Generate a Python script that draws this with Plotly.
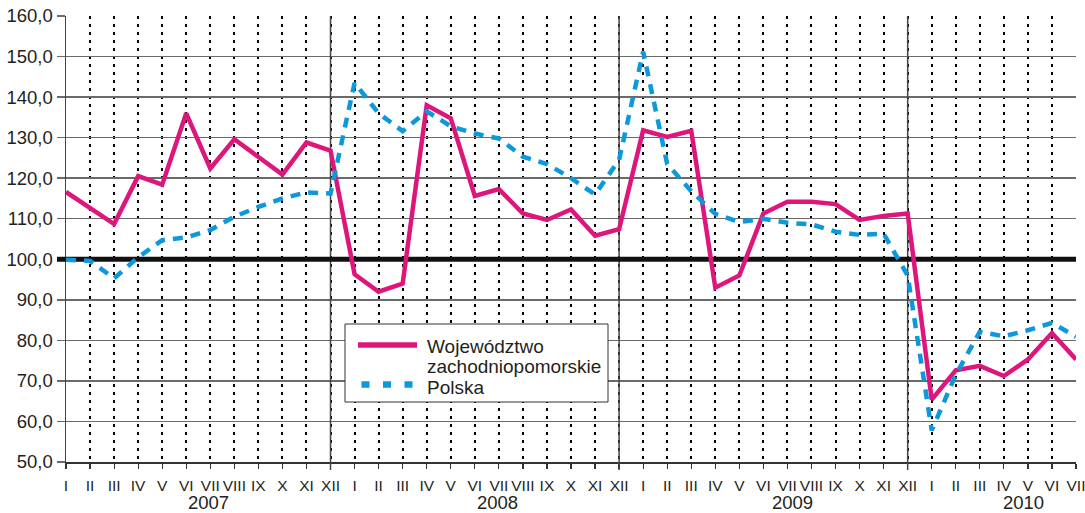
import plotly.graph_objects as go

months = ["I", "II", "III", "IV", "V", "VI", "VII", "VIII", "IX", "X", "XI", "XII"] * 3 + \
         ["I", "II", "III", "IV", "V", "VI", "VII"]
years = ["2007", "2008", "2009", "2010"]
year_pos = [5.93, 17.95, 30.2, 39.8]
year_end_idx = [11, 23, 35]

woj = [116.6, 112.7, 108.7, 120.5, 118.4, 136.0, 122.4, 129.6, 125.2, 120.9, 128.8, 126.8,
       96.3, 92.0, 94.0, 138.0, 134.8, 115.6, 117.3, 111.3, 109.7, 112.3, 105.8, 107.4,
       131.8, 130.2, 131.7, 93.0, 96.0, 111.3, 114.2, 114.2, 113.6, 109.7, 110.7, 111.3,
       65.4, 72.6, 73.7, 71.2, 75.3, 81.8, 75.3]
polska = [99.9, 99.6, 95.3, 100.5, 104.7, 105.4, 107.2, 110.5, 112.9, 115.0, 116.5, 116.2,
          143.5, 136.0, 131.6, 136.5, 132.8, 131.0, 129.8, 125.3, 123.5, 120.0, 116.0, 124.5,
          151.2, 123.5, 116.8, 111.2, 109.2, 110.0, 109.0, 108.6, 106.8, 106.0, 106.3, 96.0,
          57.8, 71.5, 82.1, 81.0, 82.5, 84.3, 80.9]
ref_value = 100
y_range = [50, 160]
series_names = ["Województwo", "zachodniopomorskie", "Polska"]

PINK = "#de167c"
BLUE = "#0b98dd"
x = list(range(len(months)))
FONT = "Liberation Sans, Arial, sans-serif"
TXT = "#231f20"

W, H = 1085, 513
ML, MR, MT, MB = 66, 9, 16, 51
PW, PH = W - ML - MR, H - MT - MB


def px(v):
    return (v - ML) / PW


def py(v):
    return (H - MB - v) / PH


fig = go.Figure()
# solid year separators (December) drawn under the data
sep_x, sep_y = [], []
for i in year_end_idx:
    sep_x += [i, i, None]
    sep_y += [y_range[0], y_range[1], None]
fig.add_trace(go.Scatter(x=sep_x, y=sep_y, mode="lines", line=dict(color="#444444", width=1.5),
                         hoverinfo="skip", showlegend=False))
# thick reference line at 100
fig.add_trace(go.Scatter(x=[x[0], x[-1]], y=[ref_value, ref_value], mode="lines",
                         line=dict(color="#111111", width=5), hoverinfo="skip", showlegend=False))

fig.add_trace(go.Scatter(x=x, y=woj, mode="lines", name=series_names[0] + " " + series_names[1],
                         line=dict(color=PINK, width=4.5), showlegend=False))
fig.add_trace(go.Scatter(x=x, y=polska, mode="lines", name=series_names[2],
                         line=dict(color=BLUE, width=4.5, dash="10px,8px"), showlegend=False))

# extension of the reference line into the tick area, left of the axis
fig.add_shape(type="line", xref="paper", yref="y", x0=px(57), x1=0, y0=ref_value, y1=ref_value,
              line=dict(color="#111111", width=5), layer="above")
# longer ticks under the year separators
for i in year_end_idx:
    fig.add_shape(type="line", xref="x", yref="paper", x0=i, x1=i, y0=py(470), y1=0,
                  line=dict(color="#444444", width=1.5), layer="above")

# year labels
for yr, p in zip(years, year_pos):
    fig.add_annotation(x=p, y=py(503), xref="x", yref="paper", text=yr, showarrow=False,
                       font=dict(family=FONT, size=18.5, color=TXT), yanchor="middle")

# legend box
fig.add_shape(type="rect", xref="paper", yref="paper", x0=px(345), x1=px(608), y0=py(402), y1=py(324),
              line=dict(color="#333333", width=1), fillcolor="white", layer="above")
fig.add_shape(type="line", xref="paper", yref="paper", x0=px(358), x1=px(417), y0=py(345), y1=py(345),
              line=dict(color=PINK, width=5.5), layer="above")
fig.add_shape(type="line", xref="paper", yref="paper", x0=px(361.5), x1=px(413), y0=py(384.5), y1=py(384.5),
              line=dict(color=BLUE, width=6.5, dash="8px,13.5px"), layer="above")
for t, yc in zip(series_names, [346.5, 366.3, 387.5]):
    fig.add_annotation(x=px(425), y=py(yc), xref="paper", yref="paper", text=t, showarrow=False,
                       xanchor="left", yanchor="middle",
                       font=dict(family=FONT, size=19, color=TXT))

fig.update_layout(
    width=W, height=H,
    margin=dict(l=ML, r=MR, t=MT, b=MB, autoexpand=False),
    paper_bgcolor="white", plot_bgcolor="white",
    separators=",.",
    font=dict(family=FONT, color=TXT),
    showlegend=False,
    hovermode=False,
)
fig.update_xaxes(range=[0, 42], tickmode="array", tickvals=x, ticktext=months,
                 showgrid=True, gridcolor="#000000", gridwidth=2, griddash="3px,5px",
                 ticks="outside", ticklen=5, tickcolor="#333333", tickwidth=1.2,
                 showline=True, linecolor="#333333", linewidth=1.5,
                 tickfont=dict(family=FONT, size=15.5, color=TXT), ticklabelstandoff=4,
                 ticklabeloverflow="allow",
                 zeroline=False, automargin=False)
fig.update_yaxes(range=y_range, dtick=10, tick0=50, tickformat=".1f",
                 showgrid=True, gridcolor="#6a6a6a", gridwidth=1.4,
                 ticks="outside", ticklen=8, tickcolor="#6a6a6a", tickwidth=1.4,
                 showline=True, linecolor="#444444", linewidth=1.5,
                 tickfont=dict(family=FONT, size=18.5, color=TXT), zeroline=False,
                 automargin=False)

fig.write_html("out.html", config={"displayModeBar": False, "staticPlot": True},
               post_script="document.body.style.margin='0px';document.body.style.overflow='hidden';")
